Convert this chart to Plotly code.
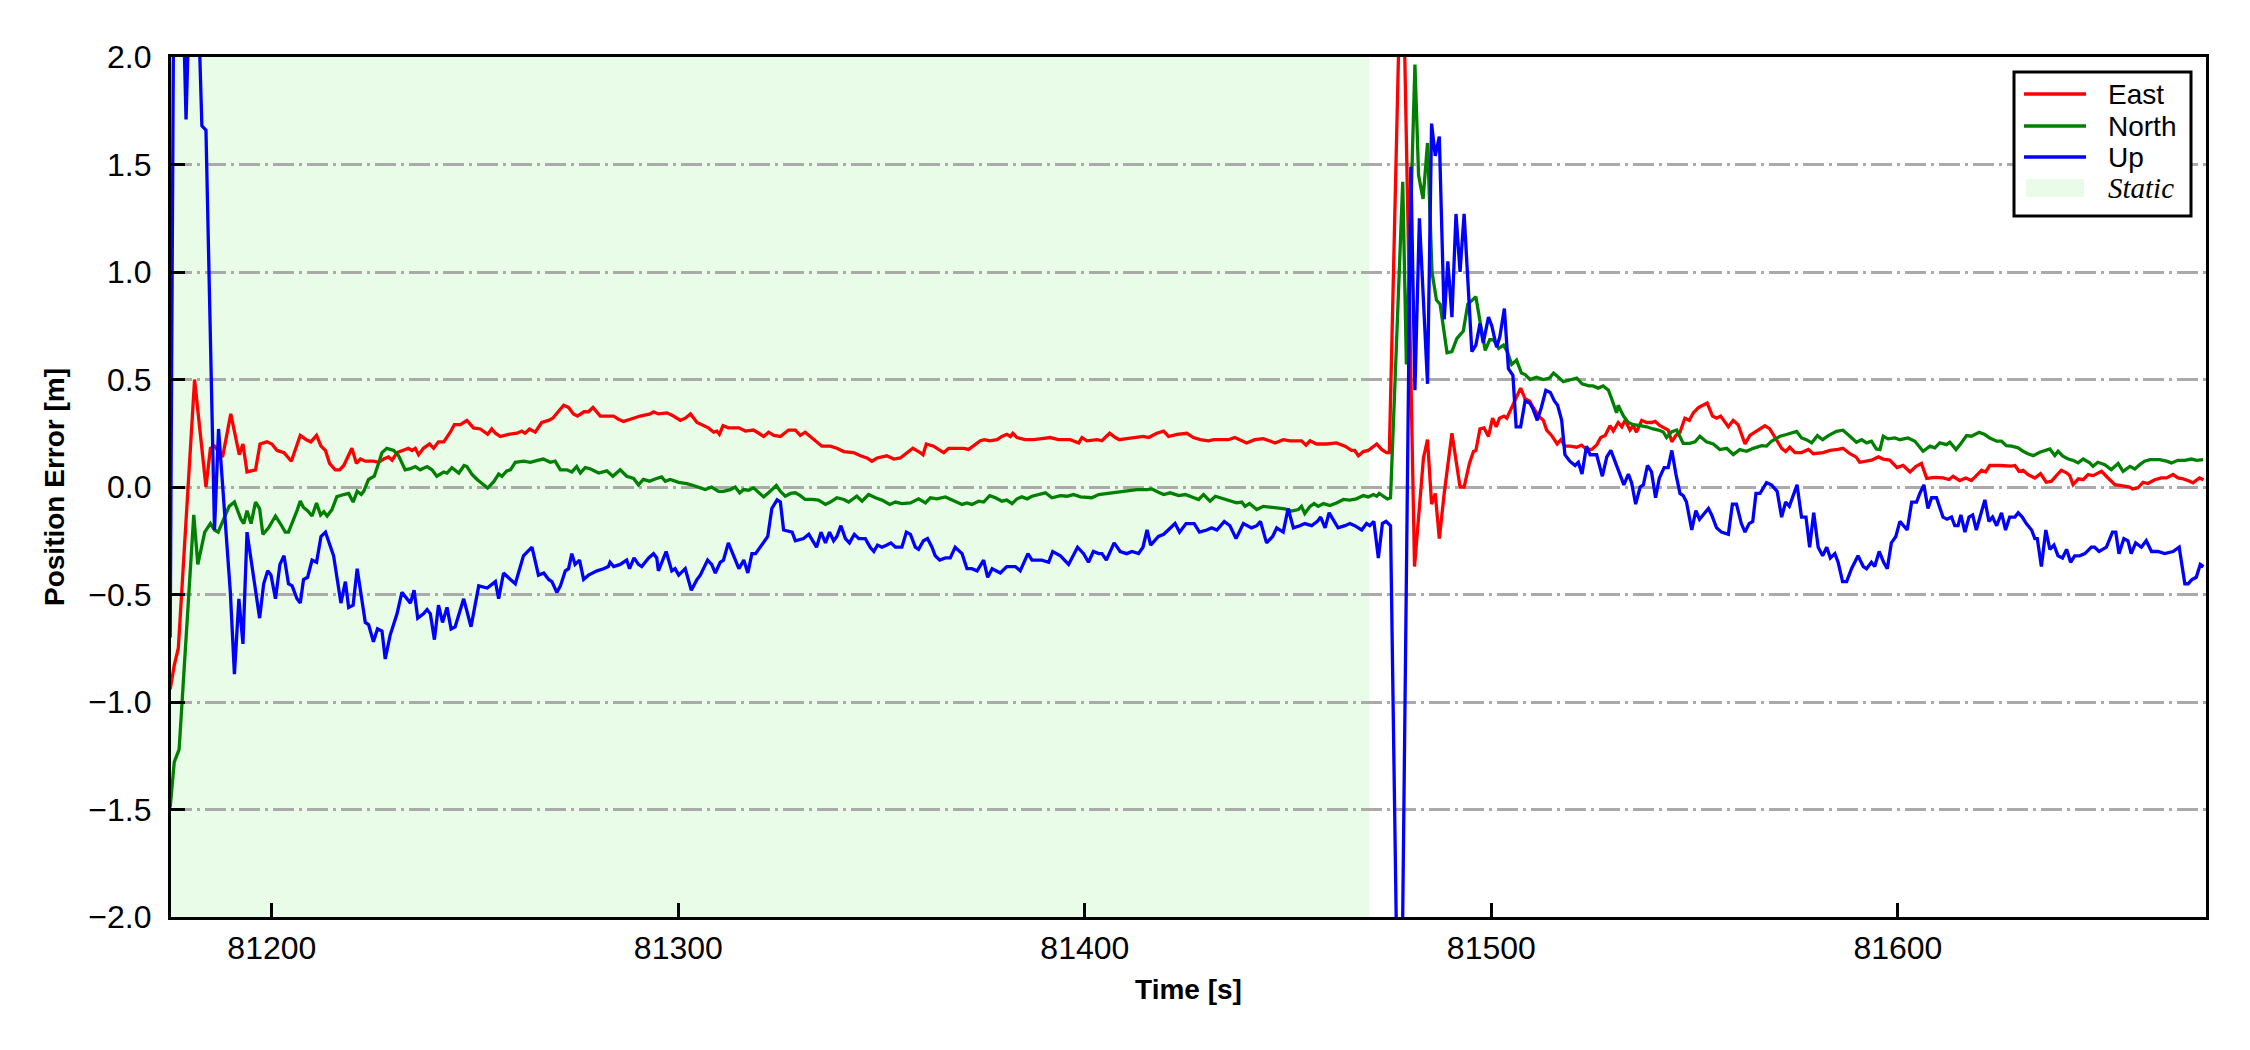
import plotly.graph_objects as go

# ---------------- data (time [s], error [m]) ----------------
east_points = [
(81175.0,-0.94),(81176.0,-0.83),(81177.0,-0.75),(81181.0,0.50),(81183.8,0.00),(81184.9,0.18),(81185.9,0.19),
(81187.9,0.14),(81189.9,0.34),(81192.0,0.15),(81192.9,0.20),(81193.9,0.07),(81196.0,0.08),(81197.1,0.20),
(81198.8,0.21),(81200.0,0.20),(81201.3,0.17),(81203.0,0.16),(81204.8,0.12),(81206.0,0.18),(81207.0,0.24),
(81208.5,0.22),(81209.6,0.21),(81211.0,0.24),(81212.1,0.19),(81213.2,0.17),(81214.2,0.11),(81215.6,0.08),
(81216.7,0.08),(81217.7,0.10),(81218.5,0.13),(81219.7,0.18),(81220.8,0.11),(81221.8,0.13),(81223.0,0.12),
(81225.0,0.12),(81226.3,0.115),(81227.5,0.13),(81228.7,0.14),(81229.6,0.125),(81230.8,0.16),(81232.3,0.17),
(81233.6,0.18),(81234.5,0.17),(81235.3,0.18),(81236.1,0.15),(81237.3,0.18),(81238.8,0.20),(81239.8,0.18),
(81241.0,0.21),(81242.3,0.21),(81243.9,0.255),(81244.9,0.29),(81246.4,0.29),(81248.0,0.31),(81249.6,0.275),
(81251.3,0.27),(81253.1,0.245),(81254.1,0.27),(81255.0,0.25),(81256.2,0.235),(81258.2,0.245),(81260.3,0.25),
(81261.5,0.26),(81262.3,0.25),(81263.4,0.27),(81264.8,0.255),(81266.4,0.30),(81268.1,0.31),(81269.1,0.32),
(81270.5,0.35),(81271.8,0.38),(81273.0,0.37),(81274.2,0.34),(81275.2,0.33),(81276.8,0.35),(81277.9,0.35),
(81279.0,0.37),(81280.8,0.33),(81282.4,0.33),(81284.1,0.33),(81285.3,0.315),(81286.5,0.305),(81288.2,0.315),
(81290.6,0.33),(81293.1,0.34),(81293.9,0.35),(81295.1,0.34),(81297.2,0.345),(81298.8,0.33),(81300.5,0.31),
(81301.7,0.32),(81303.0,0.34),(81304.6,0.30),(81306.2,0.285),(81307.4,0.275),(81308.7,0.255),(81309.5,0.26),
(81310.1,0.245),(81311.0,0.285),(81312.3,0.275),(81314.9,0.275),(81316.5,0.26),(81318.5,0.265),(81319.8,0.25),
(81321.0,0.235),(81322.2,0.255),(81323.5,0.24),(81325.1,0.235),(81327.1,0.265),(81328.8,0.265),(81330.0,0.24),
(81331.2,0.255),(81332.5,0.235),(81334.0,0.215),(81335.3,0.19),(81337.4,0.19),(81339.0,0.18),(81340.7,0.165),
(81343.1,0.16),(81344.8,0.145),(81346.4,0.135),(81347.6,0.12),(81348.9,0.135),(81351.3,0.145),(81353.0,0.13),
(81354.6,0.135),(81356.2,0.16),(81357.7,0.18),(81359.1,0.165),(81360.2,0.15),(81361.0,0.20),(81362.8,0.19),
(81364.0,0.175),(81365.3,0.16),(81366.5,0.18),(81368.5,0.18),(81370.2,0.18),(81371.4,0.175),(81372.6,0.19),
(81374.3,0.215),(81375.3,0.22),(81376.6,0.215),(81378.4,0.22),(81379.6,0.235),(81380.8,0.245),(81381.7,0.235),
(81382.3,0.25),(81383.3,0.23),(81385.3,0.22),(81387.4,0.22),(81389.4,0.225),(81391.5,0.23),(81393.5,0.22),
(81396.4,0.22),(81398.5,0.205),(81399.3,0.23),(81400.5,0.215),(81403.0,0.22),(81404.2,0.215),(81406.1,0.25),
(81407.5,0.23),(81408.5,0.22),(81410.3,0.225),(81412.4,0.23),(81414.4,0.235),(81415.7,0.23),(81417.7,0.25),
(81419.4,0.26),(81420.6,0.235),(81422.7,0.245),(81425.1,0.25),(81426.7,0.23),(81428.4,0.22),(81430.4,0.215),
(81431.7,0.22),(81433.3,0.22),(81435.3,0.22),(81436.9,0.23),(81439.8,0.205),(81441.8,0.22),(81443.9,0.225),
(81446.8,0.205),(81448.8,0.22),(81450.5,0.215),(81453.3,0.215),(81454.4,0.195),(81455.4,0.215),(81457.0,0.20),
(81459.5,0.20),(81461.9,0.205),(81464.0,0.19),(81465.6,0.17),(81466.4,0.17),(81467.3,0.145),(81468.5,0.165),
(81469.7,0.17),(81471.8,0.20),(81473.0,0.175),(81474.2,0.16),(81474.9,0.16),(81478.0,2.70),(81481.1,-0.37),
(81483.3,0.135),(81484.3,0.22),(81485.3,-0.08),(81486.2,-0.03),(81487.2,-0.24),(81488.4,-0.03),(81490.3,0.25),
(81492.3,0.00),(81493.3,0.00),(81494.6,0.11),(81495.6,0.165),(81496.2,0.17),(81497.2,0.27),(81498.2,0.275),
(81499.3,0.235),(81500.3,0.32),(81501.2,0.28),(81502.0,0.32),(81503.1,0.33),(81503.8,0.32),(81504.8,0.36),
(81506.1,0.41),(81507.2,0.46),(81508.3,0.41),(81509.4,0.40),(81510.0,0.38),(81511.6,0.33),(81512.8,0.31),
(81513.6,0.265),(81514.8,0.24),(81516.2,0.20),(81517.1,0.22),(81518.1,0.19),(81519.4,0.19),(81521.0,0.185),
(81522.2,0.195),(81523.4,0.175),(81524.7,0.175),(81525.9,0.195),(81526.9,0.23),(81528.0,0.24),(81529.2,0.285),
(81530.0,0.26),(81531.2,0.30),(81532.1,0.28),(81532.9,0.31),(81534.1,0.265),(81534.9,0.285),(81535.7,0.255),
(81537.0,0.31),(81538.2,0.30),(81539.4,0.30),(81540.3,0.305),(81541.5,0.285),(81542.7,0.275),(81543.5,0.265),
(81544.4,0.21),(81545.4,0.24),(81546.4,0.255),(81547.6,0.32),(81548.7,0.31),(81549.7,0.345),(81551.0,0.37),
(81553.1,0.39),(81554.4,0.33),(81555.4,0.32),(81556.4,0.33),(81558.3,0.28),(81559.5,0.31),(81560.7,0.29),
(81562.4,0.20),(81563.6,0.24),(81565.2,0.26),(81567.3,0.285),(81568.5,0.27),(81570.2,0.22),(81571.4,0.18),
(81572.4,0.165),(81573.4,0.185),(81574.7,0.16),(81576.3,0.16),(81578.0,0.175),(81579.2,0.155),(81581.6,0.16),
(81583.3,0.17),(81585.3,0.175),(81586.5,0.18),(81588.2,0.155),(81589.7,0.14),(81590.6,0.115),(81592.3,0.12),
(81593.5,0.125),(81595.2,0.14),(81596.4,0.13),(81598.0,0.125),(81599.8,0.09),(81601.3,0.10),(81603.0,0.07),
(81604.4,0.095),(81605.8,0.11),(81607.1,0.04),(81609.1,0.045),(81611.1,0.042),(81612.6,0.035),(81613.6,0.05),
(81615.2,0.03),(81616.7,0.042),(81618.1,0.03),(81619.3,0.053),(81620.6,0.078),(81621.6,0.07),(81622.6,0.10),
(81625.1,0.10),(81627.9,0.097),(81628.8,0.10),(81629.8,0.073),(81630.8,0.078),(81632.0,0.058),(81633.7,0.042),
(81635.1,0.062),(81636.5,0.022),(81637.8,0.027),(81639.0,0.053),(81640.2,0.078),(81641.5,0.066),(81642.3,0.053),
(81643.1,0.011),(81644.4,0.038),(81645.6,0.034),(81646.8,0.058),(81648.0,0.053),(81650.1,0.073),(81651.7,0.042),
(81653.4,0.011),(81655.0,0.006),(81657.0,0.0),(81657.7,-0.009),(81659.1,-0.004),(81660.3,0.022),(81661.5,0.016),
(81663.2,0.034),(81664.8,0.042),(81666.1,0.042),(81667.7,0.058),(81668.9,0.042),(81670.2,0.038),(81671.8,0.027),
(81672.6,0.019),(81674.2,0.042),(81675.2,0.034),
]

north_points = [
(81175.0,-1.49),(81176.0,-1.28),(81177.2,-1.22),(81180.8,-0.13),(81181.8,-0.36),(81183.5,-0.21),(81184.9,-0.17),
(81185.9,-0.20),(81186.8,-0.21),(81189.5,-0.09),(81190.8,-0.07),(81192.4,-0.15),(81193.1,-0.17),(81193.9,-0.11),
(81194.9,-0.17),(81196.0,-0.07),(81197.0,-0.10),(81197.8,-0.22),(81199.2,-0.19),(81200.9,-0.135),(81202.1,-0.17),
(81203.3,-0.21),(81204.1,-0.21),(81205.4,-0.15),(81206.2,-0.11),(81207.0,-0.065),(81207.8,-0.095),(81208.8,-0.11),
(81209.9,-0.135),(81211.0,-0.075),(81212.0,-0.13),(81212.8,-0.115),(81213.6,-0.135),(81214.8,-0.105),(81216.0,-0.045),
(81217.7,-0.035),(81218.9,-0.03),(81220.0,-0.07),(81221.0,-0.02),(81222.0,-0.035),(81222.6,-0.02),(81223.8,0.035),
(81225.2,0.05),(81226.0,0.095),(81227.1,0.16),(81228.3,0.18),(81230.0,0.17),(81231.2,0.145),(81232.8,0.08),
(81234.1,0.085),(81235.3,0.095),(81236.5,0.08),(81238.2,0.095),(81239.4,0.08),(81240.6,0.05),(81242.3,0.07),
(81243.1,0.065),(81244.3,0.09),(81246.0,0.065),(81247.3,0.10),(81248.0,0.095),(81249.2,0.06),(81250.5,0.035),
(81252.1,0.01),(81253.1,-0.005),(81254.6,0.025),(81255.8,0.06),(81256.6,0.05),(81257.8,0.075),(81258.7,0.08),
(81259.9,0.115),(81262.0,0.12),(81263.6,0.115),(81265.6,0.125),(81266.8,0.13),(81268.5,0.115),(81269.7,0.12),
(81271.0,0.08),(81272.6,0.08),(81273.8,0.07),(81275.0,0.095),(81275.9,0.065),(81277.1,0.09),(81278.3,0.085),
(81280.4,0.065),(81282.4,0.075),(81283.9,0.05),(81285.7,0.08),(81287.3,0.05),(81289.0,0.04),(81290.2,0.01),
(81291.4,0.035),(81292.9,0.027),(81294.3,0.037),(81295.9,0.047),(81296.8,0.027),(81298.0,0.035),(81300.1,0.022),
(81302.1,0.016),(81303.7,0.007),(81305.4,-0.004),(81306.6,-0.012),(81308.2,0.0),(81309.9,-0.02),(81311.1,-0.02),
(81312.8,-0.012),(81314.0,0.0),(81315.1,-0.027),(81316.1,-0.012),(81317.3,-0.015),(81318.5,-0.004),(81320.0,-0.03),
(81321.0,-0.046),(81322.2,-0.027),(81324.1,0.007),(81325.1,-0.02),(81326.3,-0.043),(81327.6,-0.03),(81328.8,-0.027),
(81330.0,-0.04),(81331.2,-0.058),(81332.9,-0.058),(81334.5,-0.061),(81336.2,-0.081),(81337.4,-0.07),(81339.0,-0.05),
(81340.7,-0.058),(81341.9,-0.07),(81343.9,-0.043),(81345.2,-0.066),(81346.8,-0.035),(81348.5,-0.05),(81350.1,-0.061),
(81352.0,-0.081),(81353.4,-0.07),(81355.0,-0.077),(81357.1,-0.074),(81359.1,-0.055),(81360.8,-0.074),(81362.0,-0.05),
(81363.6,-0.055),(81365.7,-0.046),(81367.3,-0.061),(81369.8,-0.081),(81371.0,-0.074),(81372.2,-0.081),(81373.9,-0.066),
(81375.1,-0.07),(81376.6,-0.04),(81378.0,-0.05),(81379.6,-0.066),(81380.8,-0.061),(81382.1,-0.077),(81383.3,-0.055),
(81384.5,-0.046),(81385.8,-0.055),(81387.0,-0.043),(81388.6,-0.035),(81390.3,-0.027),(81391.9,-0.05),(81394.0,-0.04),
(81395.6,-0.043),(81397.2,-0.035),(81398.9,-0.046),(81401.7,-0.05),(81403.4,-0.035),(81405.4,-0.03),(81407.1,-0.027),
(81408.7,-0.024),(81410.3,-0.019),(81412.8,-0.012),(81415.3,-0.012),(81416.5,-0.009),(81418.1,-0.024),(81419.4,-0.035),
(81421.0,-0.027),(81423.1,-0.04),(81424.7,-0.035),(81425.9,-0.043),(81428.0,-0.058),(81429.2,-0.035),(81430.8,-0.066),
(81432.1,-0.043),(81433.3,-0.05),(81435.7,-0.066),(81437.3,-0.074),(81438.6,-0.07),(81439.4,-0.09),(81440.5,-0.077),
(81442.3,-0.105),(81443.9,-0.09),(81445.5,-0.092),(81447.2,-0.097),(81449.2,-0.102),(81450.9,-0.112),(81452.5,-0.105),
(81453.3,-0.09),(81454.1,-0.123),(81455.4,-0.09),(81456.4,-0.077),(81457.4,-0.09),(81458.7,-0.077),(81460.3,-0.086),
(81461.9,-0.074),(81463.6,-0.058),(81465.2,-0.061),(81466.8,-0.055),(81468.5,-0.04),(81469.7,-0.046),(81471.0,-0.035),
(81471.8,-0.043),(81472.4,-0.03),(81473.6,-0.046),(81474.4,-0.055),(81475.2,-0.05),(81478.2,1.42),(81479.1,0.57),
(81481.2,1.965),(81482.1,1.45),(81483.2,1.34),(81484.3,1.60),(81485.4,1.00),(81486.5,0.87),(81487.4,0.85),
(81489.1,0.625),(81490.3,0.63),(81491.5,0.69),(81493.1,0.725),(81494.2,0.85),(81496.2,0.885),(81497.3,0.76),
(81498.5,0.635),(81499.6,0.685),(81500.5,0.685),(81501.8,0.645),(81503.0,0.66),(81503.9,0.63),(81505.0,0.57),
(81506.2,0.59),(81507.4,0.53),(81508.3,0.523),(81509.5,0.50),(81511.1,0.51),(81512.8,0.50),(81514.3,0.507),
(81515.3,0.53),(81516.5,0.51),(81517.7,0.49),(81519.7,0.50),(81521.0,0.507),(81522.3,0.48),(81524.0,0.47),
(81525.0,0.47),(81526.3,0.46),(81527.5,0.47),(81528.8,0.45),(81529.6,0.41),(81530.8,0.345),(81531.2,0.38),
(81532.5,0.33),(81533.7,0.30),(81534.9,0.29),(81536.6,0.285),(81538.2,0.28),(81539.8,0.27),(81541.1,0.265),
(81542.3,0.256),(81543.1,0.23),(81544.3,0.256),(81545.6,0.265),(81547.2,0.203),(81548.8,0.203),(81550.1,0.21),
(81551.3,0.236),(81552.9,0.21),(81554.6,0.20),(81556.2,0.174),(81557.9,0.18),(81559.5,0.151),(81561.1,0.174),
(81562.8,0.166),(81564.4,0.18),(81566.5,0.192),(81567.7,0.19),(81568.9,0.213),(81571.0,0.236),(81572.6,0.244),
(81575.1,0.259),(81576.3,0.228),(81577.5,0.22),(81578.8,0.205),(81580.2,0.239),(81581.5,0.22),(81582.9,0.239),
(81584.9,0.259),(81586.5,0.264),(81588.2,0.236),(81589.8,0.208),(81591.1,0.22),(81592.3,0.205),(81593.5,0.213),
(81594.7,0.177),(81595.6,0.174),(81596.4,0.236),(81597.6,0.224),(81599.3,0.228),(81600.5,0.22),(81602.5,0.228),
(81604.2,0.213),(81606.2,0.166),(81607.9,0.19),(81609.1,0.182),(81610.3,0.205),(81612.0,0.197),(81612.8,0.208),
(81614.3,0.174),(81615.6,0.205),(81616.9,0.239),(81618.1,0.236),(81620.0,0.254),(81621.4,0.244),(81622.6,0.228),
(81624.3,0.213),(81625.5,0.213),(81626.7,0.192),(81628.0,0.19),(81629.6,0.182),(81630.8,0.166),(81632.0,0.155),
(81633.3,0.146),(81634.9,0.162),(81636.6,0.171),(81637.4,0.177),(81638.6,0.146),(81639.4,0.166),(81640.6,0.143),
(81641.9,0.13),(81643.1,0.124),(81644.3,0.112),(81645.6,0.13),(81647.2,0.112),(81648.0,0.096),(81649.2,0.115),
(81650.9,0.104),(81652.5,0.081),(81654.2,0.109),(81655.4,0.073),(81657.1,0.096),(81658.3,0.084),(81659.5,0.104),
(81660.7,0.12),(81662.0,0.127),(81664.4,0.127),(81666.1,0.12),(81667.3,0.112),(81668.9,0.124),(81670.6,0.124),
(81672.2,0.13),(81673.5,0.124),(81675.1,0.127),
]

up_points = [
(81175.0,-0.70),(81176.0,2.8),(81177.2,3.0),(81178.9,1.71),(81180.2,2.6),(81181.5,2.5),(81182.8,1.68),(81183.8,1.66),
(81185.9,-0.20),(81186.9,0.27),(81189.8,-0.49),(81190.8,-0.87),(81191.9,-0.52),(81192.9,-0.73),(81193.9,-0.21),
(81197.0,-0.61),(81198.0,-0.45),(81199.0,-0.39),(81199.8,-0.41),(81200.9,-0.52),(81202.0,-0.36),(81203.0,-0.32),
(81204.1,-0.45),(81205.0,-0.46),(81206.2,-0.52),(81207.0,-0.54),(81207.8,-0.43),(81208.8,-0.42),(81209.9,-0.34),
(81211.0,-0.35),(81212.1,-0.23),(81213.2,-0.21),(81215.2,-0.32),(81217.0,-0.54),(81218.1,-0.44),(81218.9,-0.56),
(81220.0,-0.55),(81221.0,-0.38),(81223.0,-0.63),(81223.8,-0.64),(81225.0,-0.72),(81226.0,-0.66),(81227.1,-0.67),
(81227.9,-0.80),(81229.1,-0.69),(81230.8,-0.59),(81232.0,-0.49),(81233.2,-0.52),(81234.1,-0.54),(81235.0,-0.48),
(81235.9,-0.61),(81237.3,-0.59),(81238.2,-0.57),(81239.0,-0.59),(81240.0,-0.71),(81241.0,-0.55),(81242.0,-0.63),
(81243.1,-0.56),(81244.1,-0.66),(81245.1,-0.65),(81246.4,-0.57),(81247.2,-0.52),(81249.0,-0.65),(81250.9,-0.46),
(81253.0,-0.47),(81255.0,-0.44),(81255.8,-0.52),(81257.0,-0.40),(81258.7,-0.43),(81259.9,-0.45),(81261.9,-0.32),
(81264.0,-0.28),(81265.6,-0.41),(81266.9,-0.40),(81268.1,-0.43),(81268.9,-0.44),(81270.1,-0.49),(81271.0,-0.46),
(81272.2,-0.39),(81273.0,-0.38),(81273.8,-0.31),(81274.6,-0.36),(81275.7,-0.34),(81276.7,-0.43),(81277.9,-0.41),
(81280.0,-0.39),(81281.6,-0.38),(81282.8,-0.37),(81283.2,-0.35),(81284.1,-0.37),(81285.7,-0.36),(81287.3,-0.34),
(81288.0,-0.38),(81289.1,-0.33),(81290.2,-0.36),(81291.0,-0.37),(81292.7,-0.33),(81293.9,-0.31),(81294.7,-0.33),
(81295.1,-0.39),(81297.0,-0.30),(81298.4,-0.39),(81299.2,-0.38),(81300.1,-0.41),(81301.7,-0.38),(81303.2,-0.48),
(81304.6,-0.43),(81305.4,-0.41),(81307.2,-0.34),(81308.2,-0.36),(81309.1,-0.40),(81310.3,-0.35),(81311.1,-0.34),
(81312.3,-0.26),(81314.9,-0.38),(81316.1,-0.34),(81317.1,-0.40),(81318.1,-0.31),(81319.0,-0.31),(81322.0,-0.23),
(81323.0,-0.10),(81324.3,-0.06),(81325.1,-0.07),(81325.9,-0.20),(81328.0,-0.21),(81328.8,-0.25),(81330.8,-0.24),
(81332.1,-0.22),(81334.0,-0.28),(81335.1,-0.21),(81336.2,-0.26),(81337.2,-0.21),(81338.2,-0.25),(81339.0,-0.23),
(81340.0,-0.18),(81341.1,-0.24),(81342.1,-0.26),(81343.3,-0.22),(81344.4,-0.24),(81346.0,-0.24),(81347.2,-0.28),
(81348.1,-0.30),(81349.0,-0.27),(81350.1,-0.28),(81351.3,-0.27),(81352.3,-0.26),(81353.4,-0.28),(81355.0,-0.28),
(81356.1,-0.21),(81357.1,-0.22),(81358.3,-0.28),(81359.1,-0.29),(81360.3,-0.25),(81361.3,-0.24),(81362.4,-0.28),
(81363.2,-0.32),(81364.3,-0.34),(81365.7,-0.33),(81366.9,-0.33),(81368.1,-0.28),(81369.8,-0.31),(81371.0,-0.38),
(81372.2,-0.38),(81373.5,-0.39),(81375.1,-0.34),(81376.1,-0.42),(81377.2,-0.38),(81378.4,-0.39),(81379.2,-0.40),
(81380.8,-0.37),(81382.9,-0.37),(81384.1,-0.39),(81386.0,-0.31),(81387.0,-0.34),(81389.4,-0.34),(81391.1,-0.35),
(81392.1,-0.30),(81394.0,-0.32),(81396.0,-0.36),(81398.2,-0.28),(81399.7,-0.31),(81400.9,-0.35),(81402.1,-0.30),
(81403.4,-0.31),(81404.2,-0.31),(81405.3,-0.34),(81407.2,-0.26),(81408.7,-0.30),(81410.3,-0.31),(81411.6,-0.30),
(81413.2,-0.31),(81414.3,-0.28),(81415.3,-0.20),(81416.2,-0.27),(81418.1,-0.23),(81419.4,-0.22),(81420.6,-0.20),
(81422.2,-0.17),(81423.3,-0.21),(81424.9,-0.17),(81426.9,-0.17),(81428.2,-0.21),(81430.0,-0.20),(81431.2,-0.19),
(81432.5,-0.20),(81434.3,-0.16),(81435.7,-0.18),(81437.2,-0.24),(81439.0,-0.17),(81441.0,-0.19),(81442.3,-0.18),
(81443.2,-0.16),(81444.7,-0.26),(81446.2,-0.23),(81447.2,-0.19),(81448.8,-0.21),(81450.0,-0.10),(81451.3,-0.19),
(81452.9,-0.18),(81454.1,-0.17),(81455.8,-0.18),(81457.2,-0.16),(81458.0,-0.14),(81459.1,-0.19),(81460.1,-0.12),
(81461.3,-0.16),(81462.3,-0.19),(81464.0,-0.18),(81465.2,-0.17),(81466.4,-0.18),(81468.1,-0.20),(81469.3,-0.17),
(81470.1,-0.18),(81471.1,-0.16),(81472.2,-0.33),(81473.2,-0.17),(81474.1,-0.16),(81475.2,-0.18),(81477.5,-3.2),
(81480.2,1.49),(81481.2,0.45),(81482.3,1.25),(81484.3,0.48),(81485.3,1.69),(81486.2,1.54),(81487.2,1.63),
(81488.4,0.78),(81489.3,1.05),(81490.3,0.79),(81491.3,1.27),(81492.3,1.00),(81493.3,1.27),(81495.2,0.63),
(81496.2,0.66),(81497.2,0.76),(81498.0,0.67),(81499.3,0.79),(81500.1,0.75),(81501.3,0.65),(81502.1,0.70),
(81503.2,0.83),(81504.2,0.55),(81505.3,0.52),(81506.1,0.28),(81507.2,0.28),(81508.3,0.40),(81509.5,0.39),
(81510.3,0.36),(81511.3,0.31),(81512.3,0.37),(81513.4,0.45),(81514.5,0.44),(81515.5,0.40),(81516.3,0.38),
(81517.3,0.31),(81518.1,0.15),(81519.3,0.12),(81520.6,0.10),(81521.4,0.115),(81522.3,0.06),(81523.4,0.19),
(81524.3,0.15),(81525.9,0.15),(81527.3,0.05),(81528.4,0.14),(81529.4,0.17),(81530.4,0.12),(81531.6,0.05),
(81532.6,0.01),(81533.7,0.06),(81534.5,0.02),(81535.5,-0.08),(81536.6,0.00),(81537.4,0.01),(81538.4,0.10),
(81539.4,0.07),(81540.4,-0.05),(81541.3,0.04),(81542.5,0.09),(81543.5,0.09),(81544.4,0.17),(81545.4,0.06),
(81546.4,-0.03),(81547.2,-0.04),(81548.0,-0.07),(81549.3,-0.20),(81550.3,-0.11),(81551.2,-0.15),(81553.4,-0.10),
(81554.2,-0.13),(81555.4,-0.19),(81556.6,-0.21),(81558.3,-0.22),(81559.3,-0.08),(81560.3,-0.08),(81561.5,-0.17),
(81562.4,-0.21),(81563.4,-0.17),(81564.3,-0.16),(81565.1,-0.03),(81566.1,-0.03),(81567.7,0.02),(81568.9,0.01),
(81570.3,-0.02),(81571.4,-0.14),(81572.4,-0.07),(81573.3,-0.09),(81575.2,0.01),(81576.3,-0.14),(81577.4,-0.14),
(81578.3,-0.28),(81579.3,-0.12),(81580.4,-0.28),(81581.5,-0.32),(81582.5,-0.28),(81583.4,-0.33),(81584.5,-0.31),
(81585.3,-0.35),(81586.4,-0.44),(81587.4,-0.44),(81588.6,-0.38),(81590.2,-0.32),(81591.5,-0.37),(81592.3,-0.38),
(81593.5,-0.35),(81594.3,-0.37),(81595.4,-0.30),(81596.5,-0.35),(81597.4,-0.38),(81598.4,-0.26),(81599.5,-0.23),
(81600.5,-0.16),(81602.3,-0.20),(81603.4,-0.07),(81604.6,-0.07),(81605.4,-0.03),(81606.4,0.01),(81607.4,-0.10),
(81608.3,-0.05),(81609.5,-0.05),(81611.1,-0.14),(81612.1,-0.15),(81613.2,-0.14),(81614.0,-0.18),(81614.8,-0.18),
(81615.5,-0.13),(81616.5,-0.21),(81617.5,-0.14),(81618.4,-0.13),(81619.3,-0.20),(81621.4,-0.06),(81622.4,-0.16),
(81623.3,-0.14),(81624.3,-0.18),(81625.5,-0.12),(81626.5,-0.20),(81627.5,-0.14),(81628.8,-0.14),(81629.6,-0.12),
(81630.6,-0.14),(81631.6,-0.17),(81632.9,-0.20),(81633.7,-0.24),(81634.3,-0.24),(81635.3,-0.37),(81636.4,-0.20),
(81637.4,-0.29),(81638.4,-0.27),(81639.4,-0.32),(81640.5,-0.33),(81641.5,-0.29),(81642.5,-0.35),(81643.5,-0.32),
(81644.7,-0.32),(81646.0,-0.31),(81647.6,-0.28),(81648.4,-0.28),(81649.5,-0.30),(81651.3,-0.28),(81652.8,-0.21),
(81653.6,-0.21),(81654.4,-0.31),(81655.6,-0.24),(81656.6,-0.25),(81657.4,-0.31),(81658.5,-0.26),(81659.9,-0.28),
(81661.1,-0.25),(81662.4,-0.30),(81664.0,-0.30),(81665.6,-0.31),(81667.7,-0.30),(81669.2,-0.28),(81670.6,-0.45),
(81671.4,-0.45),(81672.4,-0.43),(81673.4,-0.42),(81674.4,-0.36),(81675.2,-0.37),
]

series_names = ["East", "North", "Up"]
series_colors = ["#ff0000", "#008000", "#0000ff"]
static_label = "Static"
static_interval = [81175.0, 81470.0]
x_ticks = [81200, 81300, 81400, 81500, 81600]
y_ticks = [-2.0, -1.5, -1.0, -0.5, 0.0, 0.5, 1.0, 1.5, 2.0]

# ---------------- figure ----------------
FONT = "Liberation Sans, Arial, sans-serif"
SERIF = "Liberation Serif, Times New Roman, serif"
STATIC_FILL = "rgb(232,252,232)"

# page geometry (the html body adds an 8 px margin)
FIG_W, FIG_H = 2234, 1034
PLOT_L, PLOT_R, PLOT_T, PLOT_B = 171, 2206, 57, 917   # plot area in page pixels


def px(xp):
    return (xp - PLOT_L) / (PLOT_R - PLOT_L)


def py(yp):
    return (PLOT_B - yp) / (PLOT_B - PLOT_T)


def unzip(points):
    return [p[0] for p in points], [p[1] for p in points]


fig = go.Figure()
for name, pts, color in zip(series_names, [east_points, north_points, up_points], series_colors):
    t, v = unzip(pts)
    fig.add_trace(go.Scatter(x=t, y=v, mode="lines", name=name, showlegend=False,
                             line=dict(color=color, width=3.3)))

shapes = [dict(type="rect", xref="x", yref="paper", x0=static_interval[0], x1=static_interval[1],
               y0=0, y1=1, fillcolor=STATIC_FILL, line=dict(width=0), layer="below")]
annotations = []

# hand-drawn legend box (matches matplotlib legend geometry)
shapes.append(dict(type="rect", xref="paper", yref="paper", x0=px(2014), x1=px(2191),
                   y0=py(216), y1=py(72), fillcolor="white", line=dict(color="black", width=3),
                   layer="above"))
entry_y = [94, 126, 157, 188]
for i, (name, color) in enumerate(zip(series_names, series_colors)):
    shapes.append(dict(type="line", xref="paper", yref="paper", x0=px(2024), x1=px(2086),
                       y0=py(entry_y[i]), y1=py(entry_y[i]), line=dict(color=color, width=3.3),
                       layer="above"))
    annotations.append(dict(xref="paper", yref="paper", x=px(2106), y=py(entry_y[i]),
                            xanchor="left", yanchor="middle", showarrow=False, text=name,
                            font=dict(family=FONT, size=28, color="black")))
shapes.append(dict(type="rect", xref="paper", yref="paper", x0=px(2026), x1=px(2084),
                   y0=py(197), y1=py(179), fillcolor=STATIC_FILL, line=dict(width=0), layer="above"))
annotations.append(dict(xref="paper", yref="paper", x=px(2106), y=py(entry_y[3]),
                        xanchor="left", yanchor="middle", showarrow=False,
                        text="<i>" + static_label + "</i>",
                        font=dict(family=SERIF, size=29, color="black")))

axis_common = dict(
    showline=True, linecolor="black", linewidth=3.3, mirror=True,
    ticks="inside", ticklen=14, tickwidth=3.3, tickcolor="black",
    tickfont=dict(family=FONT, size=32, color="black"),
    zeroline=False, automargin=False,
)

fig.update_layout(
    width=FIG_W, height=FIG_H,
    margin=dict(l=PLOT_L - 8, r=FIG_W + 8 - PLOT_R, t=PLOT_T - 8, b=FIG_H + 8 - PLOT_B),
    paper_bgcolor="white", plot_bgcolor="white",
    font=dict(family=FONT, color="black"),
    showlegend=False,
    shapes=shapes, annotations=annotations,
    xaxis=dict(range=[81175.2, 81675.8], tickvals=x_ticks, tickformat="d", showgrid=False,
               title=dict(text="<b>Time [s]</b>", font=dict(family=FONT, size=28), standoff=15),
               ticklabelstandoff=0, **axis_common),
    yaxis=dict(range=[-2, 2], tickvals=y_ticks, tickformat=".1f",
               showgrid=True, gridcolor="#aaaaaa", gridwidth=3.3,
               griddash="21px,5px,3px,5px",
               title=dict(text="<b>Position Error [m]</b>", font=dict(family=FONT, size=28), standoff=16),
               ticklabelstandoff=10, **axis_common),
)

fig.write_html("out.html")
